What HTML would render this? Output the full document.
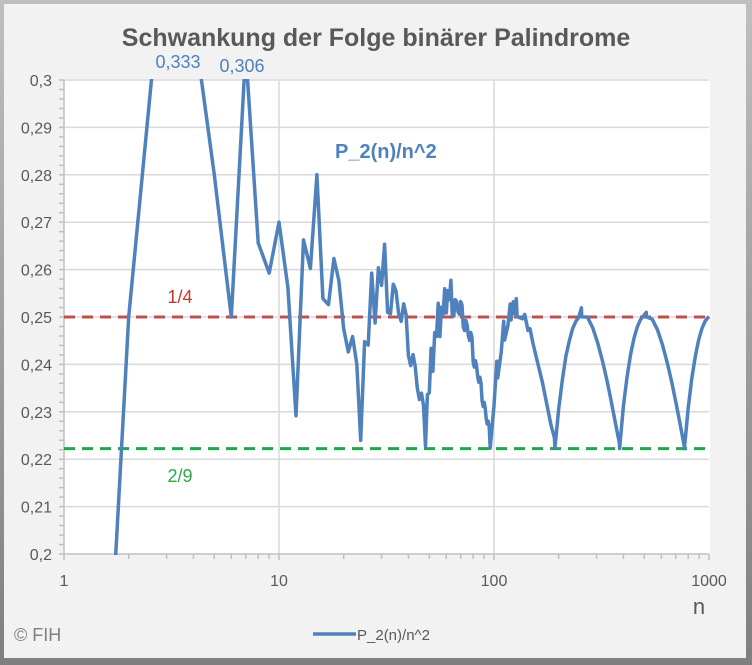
<!DOCTYPE html>
<html><head><meta charset="utf-8"><style>
html,body{margin:0;padding:0;background:#fff;width:752px;height:665px;overflow:hidden;position:relative;}
svg{position:absolute;left:0;top:0;display:block;font-family:"Liberation Sans",sans-serif;}
</style></head><body>
<svg width="752" height="665" viewBox="0 0 752 665">
<defs><clipPath id="pc"><rect x="64" y="79" width="646" height="476"/></clipPath>
<linearGradient id="bd" x1="0" y1="0" x2="0" y2="1"><stop offset="0" stop-color="#bfbfbf"/><stop offset="1" stop-color="#7f7f7f"/></linearGradient></defs>
<rect x="0" y="0" width="752" height="665" fill="url(#bd)"/>
<rect x="4" y="4" width="742" height="654" fill="#f2f2f2"/>
<rect x="64" y="79" width="646" height="476" fill="#fff"/>
<g id="grid"></g>
<g id="axes"></g>
<g id="refs"></g>
<g clip-path="url(#pc)"><path id="series" fill="none" stroke="#4f81bd" stroke-width="3.5" stroke-linejoin="round"/></g>
<text x="376" y="46" text-anchor="middle" font-size="25" font-weight="bold" fill="#595959">Schwankung der Folge binärer Palindrome</text>
<text x="178" y="68" text-anchor="middle" font-size="18" fill="#4f81bd">0,333</text>
<text x="242" y="72" text-anchor="middle" font-size="18" fill="#4f81bd">0,306</text>
<text x="335" y="158" font-size="20" font-weight="bold" fill="#4f81bd">P_2(n)/n^2</text>
<text x="180" y="303" text-anchor="middle" font-size="18" fill="#c0392b">1/4</text>
<text x="180" y="482" text-anchor="middle" font-size="18" fill="#2aa84a">2/9</text>
<text x="699" y="614" text-anchor="middle" font-size="22" fill="#595959">n</text>
<text x="14" y="641" font-size="18" fill="#7f7f7f">© FIH</text>
<line x1="313" y1="634" x2="356" y2="634" stroke="#4f81bd" stroke-width="3.5"/>
<text x="357" y="640" font-size="15" fill="#595959">P_2(n)/n^2</text>
</svg>
<script>
const nValues=[1,2,3,4,5,6,7,8,9,10,11,12,13,14,15,16,17,18,19,20,21,22,23,24,25,26,27,28,29,30,31,32,33,34,35,36,37,38,39,40,41,42,43,44,45,46,47,48,49,50,51,52,53,54,55,56,57,58,59,60,61,62,63,
64,65,66,67,68,69,70,71,72,73,74,75,76,77,78,79,80,81,82,83,84,85,86,87,88,89,90,91,92,93,94,95,96,100,103,104,108,111,112,116,119,120,123,124,127,
128,136,139,144,147,152,160,168,176,184,191,192,200,208,216,224,232,240,248,255,256,272,288,304,320,336,352,368,383,384,400,416,432,448,464,480,496,511,
512,544,576,608,640,672,704,736,767,768,800,832,864,896,928,960,1000];
const palindromes=[0,1,3,5,7,9,15,17,21,27,31,33,45,51,63,65,73,85,93,99,107,119,127,129,153,165,189,195,219,231,255,
257,273,297,313,325,341,365,381,387,403,427,443,455,471,495,511,
513,561,585,633,645,693,717,765,771,819,843,891,903,951,975,1023,
1025,1057,1105,1137,1161,1193,1241,1273,1285,1317,1365,1397,1421,1453,1501,1533,1539,1571,1619,1651,1675,1707,1755,1787,1799,1831,1879,1911,1935,1967,2015,2047,
2049,2313,2553,2565,2829,3069,3075,3339,3579,3591,3831,3855,4095,
4097,4617,4841,5125,5349,5645,6147,6667,7175,7695,8191,8193,9225,10245,11277,12291,13323,14343,15375,16383,
16385,18496,20544,22592,24640,26688,28736,30784,32767,32769,36992,41088,45184,49280,53376,57472,61568,65535,
65537,73856,82048,90240,98432,106624,114816,123008,131071,131073,147712,164096,180480,196864,213248,229632,250112];
const yTicks=[0.2,0.21,0.22,0.23,0.24,0.25,0.26,0.27,0.28,0.29,0.3];
const yTickLabels=["0,2","0,21","0,22","0,23","0,24","0,25","0,26","0,27","0,28","0,29","0,3"];
const xTicks=[1,10,100,1000];
const xTickLabels=["1","10","100","1000"];
const refValues=[0.25,2/9];
const NS="http://www.w3.org/2000/svg";
const X0=64,X1=709,Y0=554,Y1=80;
function xs(n){return X0+(X1-X0)*Math.log10(n)/3;}
function ys(v){return Y0-(v-0.2)/0.1*(Y0-Y1);}
function mk(parent,tag,attrs){const e=document.createElementNS(NS,tag);for(const k in attrs)e.setAttribute(k,attrs[k]);parent.appendChild(e);return e;}
const grid=document.getElementById('grid'),axes=document.getElementById('axes'),refs=document.getElementById('refs');
yTicks.forEach((t,i)=>{
 if(i>0){const g=mk(grid,'line',{x1:X0,x2:X1,y1:ys(t),y2:ys(t),stroke:'#d9d9d9','stroke-width':1.5});
 
 }
 const tx=mk(axes,'text',{x:52,y:ys(t)+6,'text-anchor':'end','font-size':16,fill:'#595959'});
 tx.textContent=yTickLabels[i];
 
 
});
for(let v=0.2;v<=0.3001;v+=0.002){const m=mk(axes,'line',{x1:59,x2:64,y1:ys(v),y2:ys(v),stroke:'#bfbfbf','stroke-width':1.5});
 
 }
xTicks.forEach((t,i)=>{
 if(i>0&&i<3){const g=mk(grid,'line',{x1:xs(t),x2:xs(t),y1:Y1,y2:Y0,stroke:'#d9d9d9','stroke-width':1.5});
 
 }
 const tx=mk(axes,'text',{x:xs(t),y:586,'text-anchor':'middle','font-size':16,fill:'#595959'});
 tx.textContent=xTickLabels[i];
 
 
});
for(let d=1;d<=1000;d*=10){for(let k=1;k<=9;k++){const n=d*k;if(n>1000)break;
 const m=mk(axes,'line',{x1:xs(n),x2:xs(n),y1:Y0,y2:Y0+(k==1?6:5),stroke:'#bfbfbf','stroke-width':1.5});
 
 }}
const ax=mk(axes,'line',{x1:X0,x2:X1,y1:Y0,y2:Y0,stroke:'#bfbfbf','stroke-width':1.5});


const ay=mk(axes,'line',{x1:X0,x2:X0,y1:Y1,y2:Y0,stroke:'#bfbfbf','stroke-width':1.5});


const refColors=['#c0504d','#1fa84a'];
refValues.forEach((v,i)=>{const l=mk(refs,'line',{x1:X0,x2:X1,y1:ys(v),y2:ys(v),stroke:refColors[i],'stroke-width':3,'stroke-dasharray':'11 7'});
 
 });
let d='';
nValues.forEach((n,i)=>{const v=palindromes[i]/(n*n);d+=(i?'L':'M')+xs(n).toFixed(1)+' '+ys(v).toFixed(1);});
document.getElementById('series').setAttribute('d',d);
</script>
</body></html>
